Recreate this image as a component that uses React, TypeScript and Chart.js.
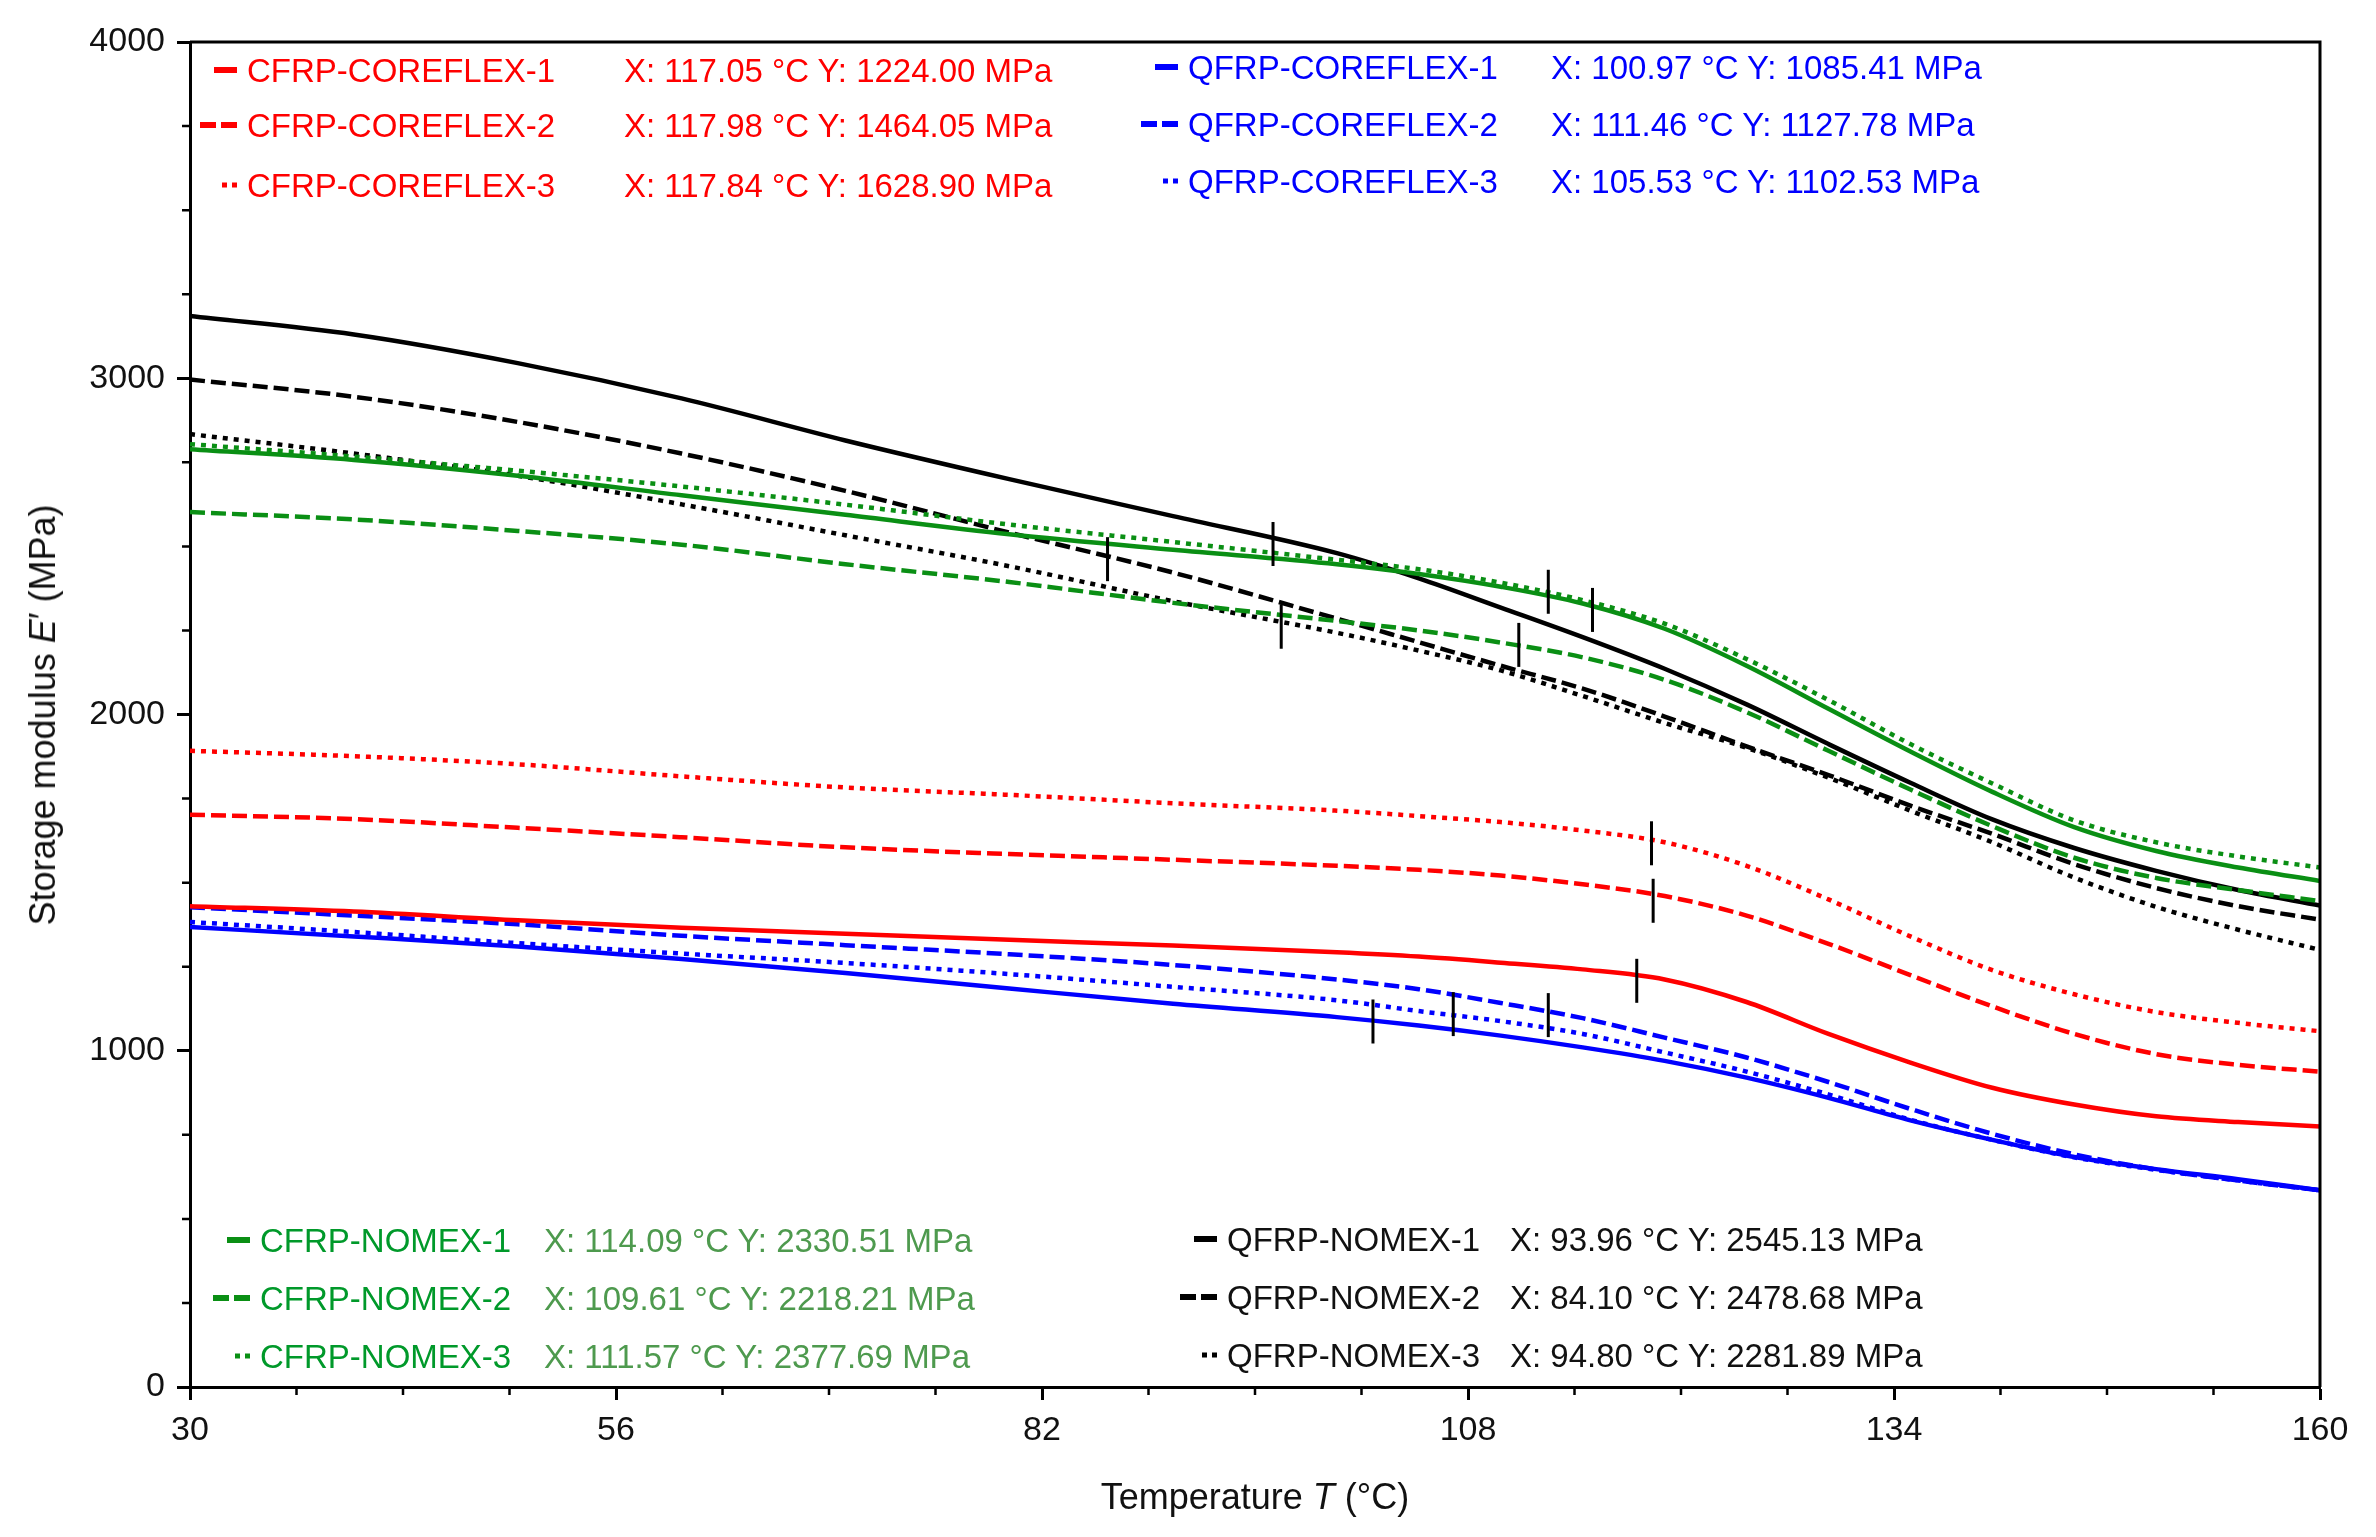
import React, { useRef, useEffect } from 'react';
import { Chart, registerables } from 'chart.js';

Chart.register(...registerables);

// temperatures (°C) shared by every curve
const temps = [30, 40, 50, 60, 70, 80, 90, 100, 105, 110, 115, 120, 125, 130, 135, 140, 145, 150, 155, 160];

// storage modulus E' (MPa)
const cfrpCoreflex1 = [1430, 1414, 1388, 1366, 1348, 1330, 1313, 1293, 1280, 1262, 1242, 1212, 1145, 1050, 965, 890, 840, 805, 788, 775];
const cfrpCoreflex2 = [1702, 1689, 1663, 1635, 1605, 1585, 1568, 1550, 1538, 1521, 1495, 1460, 1402, 1318, 1225, 1132, 1050, 990, 958, 938];
const cfrpCoreflex3 = [1892, 1876, 1852, 1816, 1783, 1761, 1736, 1714, 1698, 1680, 1655, 1620, 1550, 1450, 1340, 1240, 1168, 1115, 1083, 1058];
const qfrpCoreflex1 = [1368, 1340, 1310, 1273, 1231, 1185, 1140, 1100, 1075, 1045, 1010, 970, 920, 860, 793, 735, 684, 648, 618, 585];
const qfrpCoreflex2 = [1427, 1402, 1376, 1342, 1314, 1287, 1255, 1212, 1183, 1142, 1097, 1039, 980, 907, 827, 753, 692, 647, 614, 585];
const qfrpCoreflex3 = [1383, 1353, 1320, 1289, 1261, 1228, 1190, 1150, 1118, 1088, 1050, 995, 938, 870, 795, 735, 683, 646, 614, 585];
const cfrpNomex1 = [2789, 2757, 2710, 2652, 2594, 2536, 2490, 2447, 2418, 2380, 2330, 2255, 2145, 2017, 1890, 1770, 1665, 1594, 1545, 1505];
const cfrpNomex2 = [2602, 2580, 2546, 2505, 2447, 2394, 2332, 2278, 2250, 2214, 2170, 2103, 2007, 1892, 1777, 1668, 1574, 1514, 1478, 1445];
const cfrpNomex3 = [2804, 2767, 2725, 2678, 2624, 2565, 2513, 2460, 2432, 2392, 2340, 2270, 2165, 2043, 1912, 1795, 1685, 1620, 1578, 1545];
const qfrpNomex1 = [3185, 3130, 3045, 2940, 2815, 2700, 2590, 2480, 2405, 2318, 2230, 2136, 2030, 1912, 1797, 1688, 1603, 1535, 1478, 1432];
const qfrpNomex2 = [2996, 2945, 2870, 2776, 2665, 2541, 2422, 2285, 2215, 2145, 2077, 1994, 1905, 1820, 1729, 1645, 1555, 1484, 1430, 1390];
const qfrpNomex3 = [2834, 2776, 2710, 2625, 2533, 2441, 2337, 2243, 2190, 2131, 2055, 1975, 1901, 1812, 1714, 1620, 1515, 1428, 1360, 1300];

const seriesNames = [
    'CFRP-COREFLEX-1', 'CFRP-COREFLEX-2', 'CFRP-COREFLEX-3',
    'QFRP-COREFLEX-1', 'QFRP-COREFLEX-2', 'QFRP-COREFLEX-3',
    'CFRP-NOMEX-1', 'CFRP-NOMEX-2', 'CFRP-NOMEX-3',
    'QFRP-NOMEX-1', 'QFRP-NOMEX-2', 'QFRP-NOMEX-3',
];
const seriesValues = [
    cfrpCoreflex1, cfrpCoreflex2, cfrpCoreflex3,
    qfrpCoreflex1, qfrpCoreflex2, qfrpCoreflex3,
    cfrpNomex1, cfrpNomex2, cfrpNomex3,
    qfrpNomex1, qfrpNomex2, qfrpNomex3,
];

// data tip readouts as printed in the legend
const tipLabelT = [117.05, 117.98, 117.84, 100.97, 111.46, 105.53, 114.09, 109.61, 111.57, 93.96, 84.10, 94.80];
const tipLabelE = [1224.00, 1464.05, 1628.90, 1085.41, 1127.78, 1102.53, 2330.51, 2218.21, 2377.69, 2545.13, 2478.68, 2281.89];
// where the short vertical tip bars sit on the plot
const tipPlotT = [118.3, 119.3, 119.2, 102.2, 112.9, 107.1, 115.6, 111.1, 112.9, 96.1, 86.0, 96.6];
const tipPlotE = [1208, 1446, 1617, 1087, 1106, 1109, 2311, 2207, 2365, 2507, 2462, 2261];

const xTicks = [30, 56, 82, 108, 134, 160];
const yTicks = [0, 1000, 2000, 3000, 4000];

// styles
const RED = '#ff0000';
const BLUE = '#0000ff';
const GREEN = '#0a8f14';
const BLACK = '#000000';
const seriesColors = [RED, RED, RED, BLUE, BLUE, BLUE, GREEN, GREEN, GREEN, BLACK, BLACK, BLACK];
const seriesDash = ['solid', 'dashed', 'dotted', 'solid', 'dashed', 'dotted', 'solid', 'dashed', 'dotted', 'solid', 'dashed', 'dotted'];
const dashPattern: Record<string, number[]> = { solid: [], dashed: [15, 6], dotted: [5, 6] };

const FONT = "'Liberation Sans', Arial, Helvetica, sans-serif";

// legend blocks: which series, and where the name / value columns start
const legendGroups = [
    { idx: [0, 1, 2], nameX: 247, valueX: 624, rows: [70, 125, 185], nameColor: RED, valueColor: RED },
    { idx: [3, 4, 5], nameX: 1188, valueX: 1551, rows: [67, 124, 181], nameColor: BLUE, valueColor: BLUE },
    { idx: [6, 7, 8], nameX: 260, valueX: 544, rows: [1240, 1298, 1356], nameColor: '#00992a', valueColor: '#4e9a4e' },
    { idx: [9, 10, 11], nameX: 1227, valueX: 1510, rows: [1239, 1297, 1355], nameColor: '#111', valueColor: '#111' },
];

const framePlugin = {
    id: 'frameAndMinorTicks',
    afterDraw(chart: any) {
        const { ctx, chartArea: a, scales } = chart;
        ctx.save();
        ctx.strokeStyle = '#000';
        ctx.lineWidth = 3;
        ctx.beginPath();
        ctx.moveTo(a.left, a.top);
        ctx.lineTo(a.right, a.top);
        ctx.lineTo(a.right, a.bottom);
        ctx.stroke();

        // minor ticks, 3 between every pair of major ticks
        ctx.lineWidth = 2.5;
        ctx.beginPath();
        for (let i = 0; i < xTicks.length - 1; i++) {
            for (let k = 1; k < 4; k++) {
                const v = xTicks[i] + ((xTicks[i + 1] - xTicks[i]) * k) / 4;
                const px = scales.x.getPixelForValue(v);
                ctx.moveTo(px, a.bottom);
                ctx.lineTo(px, a.bottom + 8);
            }
        }
        for (let i = 0; i < yTicks.length - 1; i++) {
            for (let k = 1; k < 4; k++) {
                const v = yTicks[i] + ((yTicks[i + 1] - yTicks[i]) * k) / 4;
                const py = scales.y.getPixelForValue(v);
                ctx.moveTo(a.left, py);
                ctx.lineTo(a.left - 8, py);
            }
        }
        ctx.stroke();
        ctx.restore();
    },
};

const Sample = ({ color, dash, right, y }: { color: string; dash: string; right: number; y: number }) => {
    const bar = (w: number, h: number) => <div style={{ width: w, height: h, background: color }} />;
    let body;
    let width;
    if (dash === 'solid') {
        body = bar(23, 6);
        width = 23;
    } else if (dash === 'dashed') {
        body = (
            <div style={{ display: 'flex', gap: 5 }}>
                {bar(16, 6)}
                {bar(16, 6)}
            </div>
        );
        width = 37;
    } else {
        body = (
            <div style={{ display: 'flex', gap: 5 }}>
                {bar(5, 5)}
                {bar(5, 5)}
            </div>
        );
        width = 15;
    }
    return (
        <div style={{ position: 'absolute', left: right - width, top: y, transform: 'translateY(-50%)' }}>{body}</div>
    );
};

const StorageModulusChart = () => {
    const chartRef = useRef<HTMLCanvasElement>(null);
    const chartInstanceRef = useRef<Chart | null>(null);

    useEffect(() => {
        const ctx = chartRef.current?.getContext('2d');
        if (!ctx) return;
        if (chartInstanceRef.current) chartInstanceRef.current.destroy();

        const curveSets = seriesValues.map((vals, s) => ({
            label: seriesNames[s],
            data: temps.map((t, i) => ({ x: t, y: vals[i] })),
            borderColor: seriesColors[s],
            borderWidth: 4.5,
            borderDash: dashPattern[seriesDash[s]],
            borderCapStyle: 'butt' as const,
            pointRadius: 0,
            cubicInterpolationMode: 'monotone' as const,
            fill: false,
        }));

        const tipSet = {
            label: 'data tips',
            data: tipPlotT.map((t, i) => ({ x: t, y: tipPlotE[i] })),
            showLine: false,
            pointStyle: 'line' as const,
            rotation: 90,
            pointRadius: 22,
            pointBorderWidth: 3,
            pointBorderColor: '#000',
            pointBackgroundColor: '#000',
            order: -1,
        };

        chartInstanceRef.current = new Chart(ctx, {
            type: 'line',
            data: { datasets: [tipSet as any, ...curveSets] },
            options: {
                animation: false,
                responsive: true,
                maintainAspectRatio: false,
                layout: { padding: { left: 0, right: 56, top: 42, bottom: 0 } },
                scales: {
                    x: {
                        type: 'linear',
                        min: 30,
                        max: 160,
                        afterFit: (scale: any) => {
                            scale.height = 150;
                        },
                        afterBuildTicks: (scale: any) => {
                            scale.ticks = xTicks.map((v) => ({ value: v }));
                        },
                        ticks: {
                            color: '#111',
                            font: { family: FONT, size: 34 },
                            padding: 10,
                            maxRotation: 0,
                            callback: (v: any) => String(v),
                        },
                        grid: {
                            drawOnChartArea: false,
                            drawTicks: true,
                            tickLength: 13,
                            tickWidth: 3,
                            tickColor: '#000',
                        },
                        border: { display: true, color: '#000', width: 3 },
                    },
                    y: {
                        type: 'linear',
                        min: 0,
                        max: 4000,
                        afterFit: (scale: any) => {
                            scale.width = 190;
                        },
                        afterBuildTicks: (scale: any) => {
                            scale.ticks = yTicks.map((v) => ({ value: v }));
                        },
                        ticks: {
                            color: '#111',
                            font: { family: FONT, size: 34 },
                            padding: 12,
                            callback: (v: any) => String(v),
                        },
                        grid: {
                            drawOnChartArea: false,
                            drawTicks: true,
                            tickLength: 13,
                            tickWidth: 3,
                            tickColor: '#000',
                        },
                        border: { display: true, color: '#000', width: 3 },
                    },
                },
                plugins: {
                    legend: { display: false },
                    tooltip: { enabled: false },
                },
            },
            plugins: [framePlugin],
        });

        return () => {
            if (chartInstanceRef.current) {
                chartInstanceRef.current.destroy();
                chartInstanceRef.current = null;
            }
        };
    }, []);

    const textStyle = (x: number, y: number, color: string): React.CSSProperties => ({
        position: 'absolute',
        left: x,
        top: y,
        transform: 'translateY(-50%)',
        color,
        fontFamily: FONT,
        fontSize: 33,
        lineHeight: 1,
        whiteSpace: 'nowrap',
    });

    return (
        <div
            style={{
                position: 'fixed',
                left: 0,
                top: 0,
                width: 2376,
                height: 1537,
                background: '#fff',
                overflow: 'hidden',
            }}
        >
            <canvas ref={chartRef} style={{ position: 'absolute', left: 0, top: 0 }}></canvas>

            {legendGroups.map((g, gi) =>
                g.idx.map((s, r) => (
                    <React.Fragment key={`${gi}-${r}`}>
                        <Sample color={seriesColors[s]} dash={seriesDash[s]} right={g.nameX - 10} y={g.rows[r]} />
                        <div style={textStyle(g.nameX, g.rows[r], g.nameColor)}>{seriesNames[s]}</div>
                        <div style={textStyle(g.valueX, g.rows[r], g.valueColor)}>
                            {`X: ${tipLabelT[s].toFixed(2)} °C Y: ${tipLabelE[s].toFixed(2)} MPa`}
                        </div>
                    </React.Fragment>
                ))
            )}

            <div
                style={{
                    position: 'absolute',
                    left: 190,
                    width: 2130,
                    top: 1497,
                    transform: 'translateY(-50%)',
                    textAlign: 'center',
                    fontFamily: FONT,
                    fontSize: 36,
                    lineHeight: 1,
                    color: '#111',
                }}
            >
                Temperature <i>T</i> (°C)
            </div>
            <div
                style={{
                    position: 'absolute',
                    left: 43,
                    top: 715,
                    transform: 'translate(-50%, -50%) rotate(-90deg)',
                    fontFamily: FONT,
                    fontSize: 36,
                    lineHeight: 1,
                    whiteSpace: 'nowrap',
                    color: '#111',
                }}
            >
                Storage modulus <i>E</i>′ (MPa)
            </div>
        </div>
    );
};

export default function App() {
    return <StorageModulusChart />;
}
